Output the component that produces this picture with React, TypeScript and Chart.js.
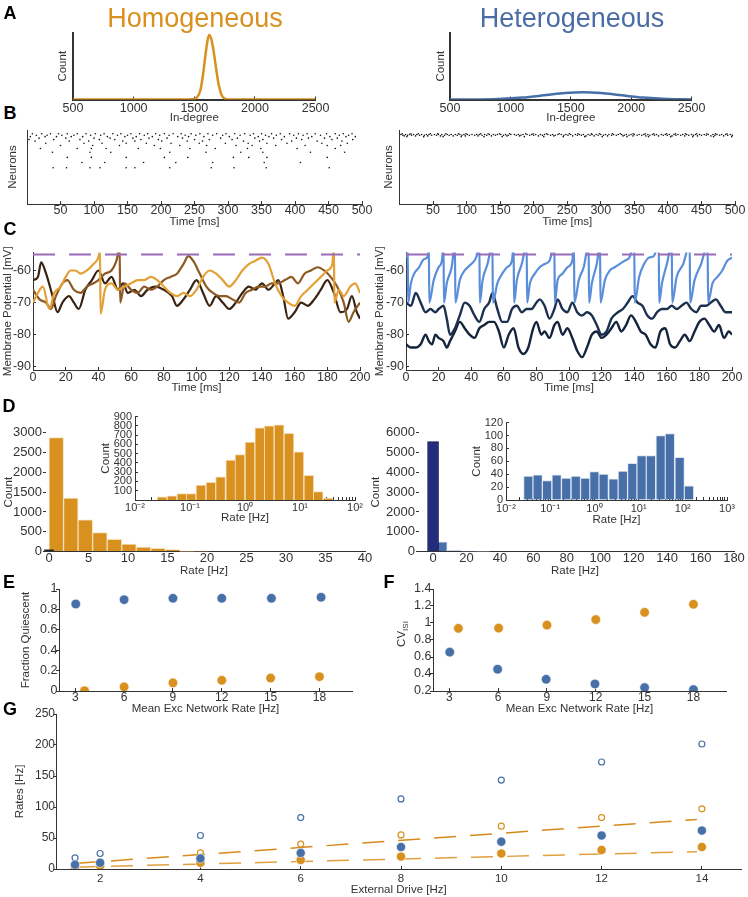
import React, { useEffect, useRef } from "react";
import { Chart, registerables } from "chart.js";

Chart.register(...registerables);

const FONT = "'Liberation Sans', Arial, Helvetica, sans-serif";
const ORANGE = "#D8901F";
const BLUE = "#4870A8";
const NAVY = "#222C7A";
const TXT = "#333333";
const AXC = "#333333";
const PURPLE = "#9A6BB8";
const TICK_FS = 12.5;
const TITLE_FS = 11.5;

// ---------- A: in-degree distributions ----------
const indegreeTicks = [500, 1000, 1500, 2000, 2500];
const homoIndegX = [500, 1400, 1480, 1520, 1550, 1570, 1590, 1610, 1622, 1640, 1660, 1680, 1700, 1725, 1750, 1800, 2500];
const homoIndegY = [0, 0, 0.004, 0.03, 0.14, 0.36, 0.66, 0.92, 1.0, 0.94, 0.74, 0.48, 0.24, 0.07, 0.015, 0, 0];
const heteIndegX = [500, 700, 900, 1100, 1300, 1450, 1600, 1750, 1900, 2100, 2300, 2500];
const heteIndegY = [0, 0.001, 0.008, 0.03, 0.07, 0.1, 0.112, 0.1, 0.07, 0.03, 0.008, 0.001];

// ---------- B: rasters ----------
const rasterTicks = [50, 100, 150, 200, 250, 300, 350, 400, 450, 500];
const rasterLeftRows = [95, 93, 91, 89, 87, 85, 82, 79, 75, 70, 63, 56, 49];
const rasterLeftTimes = [
  [8, 22, 35, 47, 60, 75, 88, 102, 115, 128, 140, 155, 168, 180, 192, 205, 218, 230, 245, 258, 270, 283, 297, 310, 325, 338, 350, 365, 378, 392, 405, 418, 430, 447, 460, 472, 485],
  [14, 30, 52, 70, 95, 110, 135, 150, 175, 198, 212, 236, 252, 277, 292, 318, 333, 356, 372, 398, 412, 438, 466, 480],
  [5, 27, 44, 66, 83, 120, 146, 163, 187, 225, 241, 264, 302, 345, 361, 384, 425, 452, 476, 490],
  [18, 58, 100, 124, 158, 182, 209, 232, 289, 314, 340, 368, 402, 420, 444, 463],
  [3, 40, 79, 108, 131, 170, 196, 250, 272, 306, 352, 380, 410, 455, 486],
  [12, 63, 92, 143, 161, 201, 239, 262, 323, 347, 395, 433, 470],
  [28, 85, 112, 148, 178, 215, 257, 296, 330, 358, 388, 440, 478],
  [50, 98, 138, 190, 228, 268, 312, 336, 371, 415, 448, 468],
  [20, 75, 96, 118, 166, 199, 243, 281, 329, 349, 403, 460],
  [38, 94, 125, 213, 267, 319, 352, 423, 474],
  [60, 96, 148, 205, 240, 308, 331, 358, 448],
  [82, 116, 174, 222, 277, 354, 408],
  [39, 59, 94, 109, 148, 161, 213, 275, 309, 357, 451],
];
const rasterRightRows = [95, 94, 93, 92, 91];
const rasterRightTimes = [
  [4, 17, 28, 46, 57, 69, 88, 99, 121, 132, 149, 164, 188, 199, 219, 238, 253, 266, 286, 298, 317, 329, 348, 366, 379, 398, 411, 426, 443, 458, 471, 488],
  [2, 9, 15, 21, 26, 33, 40, 44, 52, 58, 63, 71, 77, 83, 90, 96, 101, 108, 115, 119, 127, 134, 140, 146, 151, 158, 166, 171, 177, 184, 190, 197, 203, 210, 216, 221, 228, 236, 241, 248, 255, 262, 268, 274, 281, 287, 293, 300, 307, 312, 319, 326, 331, 338, 345, 350, 357, 364, 370, 377, 383, 390, 396, 402, 409, 415, 422, 428, 435, 441, 447, 454, 460, 467, 473, 480, 486, 493],
  [5, 12, 18, 30, 37, 48, 55, 67, 74, 86, 93, 104, 112, 123, 130, 143, 155, 162, 174, 181, 194, 200, 213, 225, 232, 245, 251, 265, 271, 284, 296, 304, 316, 323, 335, 342, 354, 361, 373, 380, 393, 399, 412, 419, 431, 438, 450, 457, 470, 477, 489, 496],
  [7, 24, 42, 61, 80, 98, 117, 137, 160, 179, 207, 230, 258, 278, 290, 310, 333, 348, 367, 386, 406, 425, 444, 464, 483],
  [11, 36, 65, 92, 126, 153, 186, 215, 244, 276, 302, 339, 371, 404, 437, 468, 495],
];

// ---------- C: membrane potentials ----------
const vmTimeTicks = [0, 20, 40, 60, 80, 100, 120, 140, 160, 180, 200];
const vmTicks = [-90, -80, -70, -60];
const thresholdT = [0, 200];
const thresholdV = [-55, -55];

const homoDarkT = [0, 3, 5, 8, 12, 15, 18, 22, 25, 28, 32, 36, 40, 44, 48, 52, 55, 58, 62, 66, 70, 75, 80, 85, 88, 92, 96, 100, 104, 108, 112, 116, 120, 124, 128, 132, 136, 140, 144, 148, 150, 153, 156, 160, 164, 168, 172, 176, 180, 184, 188, 192, 195, 198, 200];
const homoDarkV = [-63, -62, -57.5, -61, -68, -73, -70, -68, -70, -72, -66, -63, -60, -64, -62, -66, -64, -67, -66, -68, -66, -65, -66, -68, -71, -69, -66, -63, -67, -71, -68, -70, -72, -70, -67, -65, -66, -64, -66, -64, -63, -68, -75, -73, -70, -71, -69, -66, -63, -67, -73, -72, -68, -73, -75];
const homoMidT = [0, 4, 8, 11, 14, 18, 21, 25, 29, 33, 37, 40, 44, 48, 51, 53, 53.3, 56, 60, 64, 68, 72, 76, 80, 84, 88, 92, 95, 98, 102, 106, 110, 114, 118, 122, 126, 130, 134, 138, 142, 146, 150, 154, 158, 162, 166, 170, 174, 178, 182, 186, 190, 193, 196, 200];
const homoMidV = [-66, -69, -70, -72, -68, -64, -63, -66, -67, -65, -64, -63, -61, -60, -57, -53, -70, -64, -66, -67, -65, -66, -65, -63, -62, -61, -58, -55.5, -57, -61, -65, -67, -68, -68, -69, -70, -67, -66, -65, -65, -64, -64, -63, -62, -64, -61, -60, -59, -60, -62, -65, -70, -76, -73, -70];
const homoLightT = [0, 3, 6, 10, 13, 17, 20, 23, 26, 29, 33, 37, 40, 41, 41.3, 44, 48, 52, 56, 60, 64, 68, 72, 76, 80, 84, 88, 92, 96, 100, 104, 108, 112, 116, 120, 124, 128, 132, 136, 140, 144, 148, 152, 156, 160, 164, 168, 172, 176, 180, 183, 184, 184.3, 187, 190, 194, 197, 200];
const homoLightV = [-70, -67, -65, -72, -67, -65, -62, -60, -60, -61, -60, -58, -56, -54, -73.5, -66, -64, -66, -65, -64, -63, -63, -62, -63, -65, -67, -68, -67, -68, -66, -62, -60, -61, -63, -65, -63, -60, -58, -57, -56, -58, -64, -68, -70, -71, -68, -66, -64, -62, -60, -58, -53, -70, -66, -68, -65, -64, -67];

const heteSpikeT = [0, 1, 1.3, 3, 5, 8, 11, 13.5, 14, 14.3, 17, 20, 22, 23, 23.3, 25, 28, 30, 30.3, 33, 36, 40, 43, 45, 45.3, 47, 50, 53, 53.3, 56, 59, 62, 65, 66, 66.3, 68, 71, 74, 74.3, 76, 79, 82, 85, 88, 91, 91.3, 93, 96, 99, 102, 103, 103.3, 106, 109, 112, 112.3, 114, 117, 119, 119.3, 122, 125, 128, 131, 134, 137, 140, 140.3, 143, 146, 149, 152, 155, 155.3, 157, 160, 163, 163.3, 166, 170, 174, 174.3, 177, 181, 185, 185.3, 188, 191, 194, 197, 200];
const heteSpikeV = [-56, -52, -70, -64, -61, -59, -56.5, -55.5, -52, -70, -63, -59, -57, -52, -70, -64, -59, -52, -70, -63, -60, -58, -56, -52, -70, -63, -58, -52, -70, -64, -61, -59, -57, -52, -70, -63, -58, -52, -70, -64, -61, -59, -58, -57, -52, -70, -63, -61, -59, -57, -52, -70, -63, -59, -52, -70, -64, -58, -52, -70, -63, -60, -59, -58, -57, -56, -52, -70, -62, -58, -56, -55.5, -52, -70, -64, -58, -52, -70, -62, -58, -52, -70, -63, -58, -52, -70, -64, -62, -60, -57, -56];
const heteUpperT = [0, 3, 6, 9, 12, 15, 18, 20, 23, 25, 27, 30, 33, 36, 39, 42, 45, 48, 51, 53, 56, 59, 62, 65, 68, 71, 74, 77, 80, 82, 85, 88, 91, 93, 96, 99, 102, 105, 108, 111, 114, 117, 120, 123, 126, 130, 133, 136, 139, 142, 145, 148, 151, 154, 157, 160, 163, 166, 169, 172, 175, 178, 181, 184, 187, 190, 193, 196, 200];
const heteUpperV = [-70, -71, -67, -70, -73, -72, -73, -72, -71, -75, -80, -78, -74, -70, -71, -74, -76, -72, -70, -67, -72, -76, -76, -72, -71, -73, -72, -72, -70, -69, -71, -75, -72, -69, -72, -73, -70, -73, -74, -73, -74, -77, -80, -79, -75, -73, -72, -70, -68, -70, -71, -74, -75, -73, -72, -72, -71, -72, -71, -70, -72, -73, -71, -71, -70, -69, -71, -73, -73];
const heteLowerT = [0, 3, 6, 9, 12, 14, 16, 18, 20, 23, 25, 27, 30, 33, 36, 39, 42, 45, 48, 51, 54, 57, 60, 63, 66, 69, 72, 75, 78, 80, 83, 85, 88, 91, 93, 96, 99, 102, 105, 108, 111, 114, 117, 120, 123, 126, 129, 132, 135, 138, 141, 144, 147, 150, 153, 156, 159, 162, 165, 168, 171, 174, 177, 180, 183, 186, 189, 192, 195, 198, 200];
const heteLowerV = [-83, -84, -84, -83, -80, -82, -83, -80, -81, -82, -84, -82, -79, -76, -78, -80, -81, -78, -77, -76, -76, -79, -84, -80, -78, -84, -86, -84, -78, -76, -80, -79, -81, -77, -76, -80, -78, -81, -85, -87, -84, -80, -79, -81, -80, -78, -76, -79, -77, -74, -76, -79, -80, -83, -84, -79, -78, -83, -84, -82, -80, -82, -79, -76, -75, -77, -79, -77, -81, -79, -80];

// ---------- D: rate histograms ----------
const homoRateTicks = [0, 5, 10, 15, 20, 25, 30, 35, 40];
const homoCountTicks = [0, 500, 1000, 1500, 2000, 2500, 3000];
const homoRateCenters = [0.92, 2.76, 4.6, 6.44, 8.28, 10.12, 11.96, 13.8, 15.64, 17.48, 19.32];
const homoRateCounts = [2880, 1350, 800, 480, 310, 190, 110, 80, 50, 5, 10];
const homoSilentCount = 40;
const heteRateTicks = [0, 20, 40, 60, 80, 100, 120, 140, 160, 180];
const heteCountTicks = [0, 1000, 2000, 3000, 4000, 5000, 6000];
const heteRateCenters = [4.25, 12.75, 21.25, 29.75];
const heteRateCounts = [490, 40, 15, 8];
const heteSilentCount = 5550;

const homoLogCenters = [0.031, 0.047, 0.071, 0.105, 0.158, 0.24, 0.36, 0.55, 0.81, 1.23, 1.86, 2.75, 4.17, 6.31, 9.55, 14.5, 21.4, 32.4];
const homoLogCounts = [35, 45, 70, 70, 160, 190, 250, 430, 490, 625, 780, 800, 810, 720, 520, 265, 90, 20];
const homoLogCountTicks = [100, 200, 300, 400, 500, 600, 700, 800, 900];
const heteLogCenters = [0.032, 0.052, 0.085, 0.14, 0.23, 0.38, 0.62, 1.0, 1.62, 2.7, 4.4, 7.2, 11.7, 19, 31.6, 51, 85, 138];
const heteLogCounts = [37, 39, 30, 39, 34, 37, 34, 44, 40, 33, 45, 57, 69, 69, 100, 103, 66, 22];
const heteLogCountTicks = [0, 20, 40, 60, 80, 100, 120];
const logTicksHomo = [0.01, 0.02, 0.03, 0.04, 0.05, 0.06, 0.07, 0.08, 0.09, 0.1, 0.2, 0.3, 0.4, 0.5, 0.6, 0.7, 0.8, 0.9, 1, 2, 3, 4, 5, 6, 7, 8, 9, 10, 20, 30, 40, 50, 60, 70, 80, 90, 100];
const logTicksHete = [...logTicksHomo, 200, 300, 400, 500, 600, 700, 800, 900, 1000];
const decadeLabels: Record<string, string> = { "0.01": "10⁻²", "0.1": "10⁻¹", "1": "10⁰", "10": "10¹", "100": "10²", "1000": "10³" };

// ---------- E / F ----------
const meanRateTicks = [3, 6, 9, 12, 15, 18];
const fracTicks = [0, 0.2, 0.4, 0.6, 0.8, 1];
const cvTicks = [0.2, 0.4, 0.6, 0.8, 1, 1.2, 1.4];
const eBlueX = [3.03, 6, 9, 12, 15.05, 18.1];
const eBlueY = [0.853, 0.895, 0.909, 0.909, 0.909, 0.919];
const eOrangeX = [3.57, 6, 9, 12, 15, 18];
const eOrangeY = [0.003, 0.04, 0.08, 0.105, 0.127, 0.14];
const fBlueX = [3.03, 5.97, 8.95, 11.95, 15, 18];
const fBlueY = [0.657, 0.456, 0.338, 0.283, 0.24, 0.216];
const fOrangeX = [3.56, 6.03, 9, 12, 15, 18];
const fOrangeY = [0.937, 0.94, 0.975, 1.04, 1.125, 1.22];

// ---------- G ----------
const driveTicks = [2, 4, 6, 8, 10, 12, 14];
const ratesTicks = [0, 50, 100, 150, 200, 250];
const driveX = [1.5, 2, 4, 6, 8, 10, 12, 14];
const heteInhRates = [18, 25, 54, 83, 113, 143.5, 172.6, 201.6];
const homoInhRates = [7, 12, 26, 40, 55, 69, 83, 97];
const heteExcRates = [7, 10, 17, 26, 35.5, 44, 54, 62];
const homoExcRates = [2, 5, 10, 14.5, 20, 25, 30.6, 35.5];
const fitHighX = [1.5, 13.9];
const fitHighY = [9, 80];
const fitLowX = [1.5, 13.9];
const fitLowY = [3, 28];

// ---------- helpers ----------
const pts = (xs: number[], ys: number[]) => xs.map((x, i) => ({ x, y: ys[i] }));
const rasterPts = (rows: number[], times: number[][]) =>
  rows.flatMap((r, i) => times[i].map((t) => ({ x: t, y: r })));

type Box = { l: number; t: number; r: number; b: number; yW: number; xH: number; pt: number; pr: number; pl: number };

interface AxisOpt {
  dir: "x" | "y";
  min: number;
  max: number;
  ticks: number[];
  log?: boolean;
  fmt?: (v: number) => string;
  size: number;
  title?: string;
  gap?: number;
  tickLen?: number;
  labels?: boolean;
  border?: boolean;
  bw?: number;
  fs?: number;
}

function axis(o: AxisOpt) {
  const isX = o.dir === "x";
  const tl = o.tickLen === undefined ? -3 : o.tickLen;
  const gap = o.gap === undefined ? 2 : o.gap;
  return {
    type: o.log ? "logarithmic" : "linear",
    position: isX ? "bottom" : "left",
    min: o.min,
    max: o.max,
    offset: false,
    afterBuildTicks: (s: any) => {
      s.ticks = o.ticks.map((v) => ({ value: v }));
    },
    afterFit: (s: any) => {
      if (isX) s.height = o.size;
      else s.width = o.size;
    },
    ticks: {
      display: o.labels !== false,
      autoSkip: false,
      maxRotation: 0,
      minRotation: 0,
      padding: gap - tl,
      color: TXT,
      font: { family: FONT, size: o.fs ?? TICK_FS },
      callback: (v: any) => (o.fmt ? o.fmt(Number(v)) : String(v)),
    },
    grid: { display: true, offset: false, drawOnChartArea: false, drawTicks: tl !== 0, tickLength: tl, color: AXC, lineWidth: 1 },
    border: { display: o.border !== false, color: AXC, width: o.bw ?? 1 },
    title: o.title
      ? { display: true, text: o.title, color: TXT, font: { family: FONT, size: TITLE_FS }, padding: 0 }
      : { display: false },
  };
}

function base(box: Box, x: any, y: any) {
  return {
    responsive: false,
    animation: false,
    devicePixelRatio: 1,
    events: [],
    layout: { padding: { left: box.pl, top: box.pt, right: box.pr, bottom: 0 } },
    plugins: { legend: { display: false }, tooltip: { enabled: false }, title: { display: false } },
    scales: { x, y },
  };
}

const line = (data: any[], color: string, width: number, extra: any = {}) => ({
  data,
  borderColor: color,
  backgroundColor: color,
  borderWidth: width,
  pointRadius: 0,
  fill: false,
  cubicInterpolationMode: "monotone",
  ...extra,
});

const fmtDec = (v: number) => (v === 0 ? "0" : String(Number(v.toFixed(1))));
const fmtLog = (v: number) => decadeLabels[String(v)] ?? "";

// ---------- boxes ----------
const boxAL: Box = { l: 73, t: 33, r: 318, b: 99, yW: 17, xH: 25.5, pt: 2, pr: 16, pl: 12 };
const boxAR: Box = { l: 450, t: 33, r: 694, b: 99, yW: 16, xH: 25.5, pt: 2, pr: 16, pl: 12 };
const boxBL: Box = { l: 27, t: 128, r: 363, b: 204, yW: 21, xH: 25, pt: 2, pr: 12, pl: 2 };
const boxBR: Box = { l: 399, t: 128, r: 736, b: 204, yW: 17.5, xH: 25, pt: 2, pr: 11, pl: 2 };
const boxCL: Box = { l: 33, t: 244, r: 362, b: 370, yW: 32, xH: 25, pt: 4, pr: 12, pl: 1 };
const boxCR: Box = { l: 406, t: 244, r: 734, b: 370, yW: 33, xH: 25, pt: 4, pr: 12, pl: 1 };
const boxDL: Box = { l: 43, t: 430, r: 365, b: 551, yW: 41, xH: 26.5, pt: 9, pr: 10, pl: 1 };
const boxDR: Box = { l: 416, t: 430, r: 734, b: 551, yW: 47, xH: 26.5, pt: 9, pr: 12, pl: 0 };
const boxDLi: Box = { l: 135, t: 413, r: 355, b: 500, yW: 36, xH: 25, pt: 9, pr: 12, pl: 2 };
const boxDRi: Box = { l: 506, t: 419, r: 727, b: 500, yW: 36, xH: 27, pt: 9, pr: 14, pl: 2 };
const boxE: Box = { l: 59, t: 589, r: 352, b: 691, yW: 40, xH: 25, pt: 9, pr: 10, pl: 2 };
const boxF: Box = { l: 433, t: 589, r: 726, b: 691, yW: 38, xH: 25, pt: 9, pr: 14, pl: 2 };
const boxG: Box = { l: 56, t: 714, r: 740, b: 869, yW: 43.5, xH: 28, pt: 9, pr: 8, pl: 2 };

const specs: { box: Box; make: () => any }[] = [
  {
    box: boxAL,
    make: () => ({
      type: "line",
      data: { datasets: [line(pts(homoIndegX, homoIndegY), ORANGE, 2.5)] },
      options: base(
        boxAL,
        axis({ dir: "x", min: 500, max: 2500, ticks: indegreeTicks, size: boxAL.xH, title: "In-degree", bw: 2, gap: 1.5 }),
        axis({ dir: "y", min: 0, max: 1.03, ticks: [], labels: false, size: boxAL.yW, title: "Count", bw: 2, tickLen: 0 })
      ),
    }),
  },
  {
    box: boxAR,
    make: () => ({
      type: "line",
      data: { datasets: [line(pts(heteIndegX, heteIndegY), BLUE, 2.5)] },
      options: base(
        boxAR,
        axis({ dir: "x", min: 500, max: 2500, ticks: indegreeTicks, size: boxAR.xH, title: "In-degree", bw: 2, gap: 1.5 }),
        axis({ dir: "y", min: 0, max: 1.03, ticks: [], labels: false, size: boxAR.yW, title: "Count", bw: 2, tickLen: 0 })
      ),
    }),
  },
  {
    box: boxBL,
    make: () => ({
      type: "scatter",
      data: { datasets: [{ data: rasterPts(rasterLeftRows, rasterLeftTimes), backgroundColor: "#111", borderWidth: 0, pointRadius: 0.8 }] },
      options: base(
        boxBL,
        axis({ dir: "x", min: 0, max: 500, ticks: rasterTicks, size: boxBL.xH, title: "Time [ms]", gap: -0.5 }),
        axis({ dir: "y", min: 0, max: 100, ticks: [], labels: false, size: boxBL.yW, title: "Neurons", tickLen: 0 })
      ),
    }),
  },
  {
    box: boxBR,
    make: () => ({
      type: "scatter",
      data: { datasets: [{ data: rasterPts(rasterRightRows, rasterRightTimes), backgroundColor: "#111", borderWidth: 0, pointRadius: 0.8 }] },
      options: base(
        boxBR,
        axis({ dir: "x", min: 0, max: 500, ticks: rasterTicks, size: boxBR.xH, title: "Time [ms]", gap: -0.5 }),
        axis({ dir: "y", min: 0, max: 100, ticks: [], labels: false, size: boxBR.yW, title: "Neurons", tickLen: 0 })
      ),
    }),
  },
  {
    box: boxCL,
    make: () => ({
      type: "line",
      data: {
        datasets: [
          line(pts(thresholdT, thresholdV), PURPLE, 2, { borderDash: [22, 14], cubicInterpolationMode: "default", tension: 0 }),
          line(pts(homoLightT, homoLightV), "#E3A036", 2.2),
          line(pts(homoMidT, homoMidV), "#8C5A22", 2.2),
          line(pts(homoDarkT, homoDarkV), "#3A2311", 2.2),
        ],
      },
      options: base(
        boxCL,
        axis({ dir: "x", min: 0, max: 200, ticks: vmTimeTicks, size: boxCL.xH, title: "Time [ms]", gap: 0.5 }),
        axis({ dir: "y", min: -91, max: -54.4, ticks: vmTicks, size: boxCL.yW, title: "Membrane Potential [mV]", gap: 2 })
      ),
    }),
  },
  {
    box: boxCR,
    make: () => ({
      type: "line",
      data: {
        datasets: [
          line(pts(thresholdT, thresholdV), PURPLE, 2, { borderDash: [22, 14], cubicInterpolationMode: "default", tension: 0 }),
          line(pts(heteSpikeT, heteSpikeV), "#5A8EDB", 2.2),
          line(pts(heteUpperT, heteUpperV), "#1C3150", 2.4),
          line(pts(heteLowerT, heteLowerV), "#15243D", 2.4),
        ],
      },
      options: base(
        boxCR,
        axis({ dir: "x", min: 0, max: 200, ticks: vmTimeTicks, size: boxCR.xH, title: "Time [ms]", gap: 0.5 }),
        axis({ dir: "y", min: -91, max: -54.4, ticks: vmTicks, size: boxCR.yW, title: "Membrane Potential [mV]", gap: 2 })
      ),
    }),
  },
  {
    box: boxDL,
    make: () => ({
      type: "bar",
      data: {
        datasets: [
          { data: [{ x: 0, y: homoSilentCount }], backgroundColor: "#222", borderWidth: 0, barThickness: 9, grouped: false },
          { data: pts(homoRateCenters, homoRateCounts), backgroundColor: ORANGE, borderColor: "#F3DDB5", borderWidth: 1, barThickness: 14.5, grouped: false },
        ],
      },
      options: base(
        boxDL,
        axis({ dir: "x", min: -0.76, max: 40, ticks: homoRateTicks, size: boxDL.xH, title: "Rate [Hz]", gap: -0.5, tickLen: 0, fs: 13 }),
        axis({ dir: "y", min: 0, max: 3000, ticks: homoCountTicks, size: boxDL.yW, title: "Count", gap: 1, border: false, fs: 13 })
      ),
    }),
  },
  {
    box: boxDR,
    make: () => ({
      type: "bar",
      data: {
        datasets: [
          { data: [{ x: 0, y: heteSilentCount }], backgroundColor: NAVY, borderColor: "#111a55", borderWidth: 1, barThickness: 11, grouped: false },
          { data: pts(heteRateCenters, heteRateCounts), backgroundColor: BLUE, borderColor: "#DCE4F0", borderWidth: 1, barThickness: 14.2, grouped: false },
        ],
      },
      options: base(
        boxDR,
        axis({ dir: "x", min: -10.2, max: 180, ticks: heteRateTicks, size: boxDR.xH, title: "Rate [Hz]", gap: -0.5, tickLen: 0, fs: 13 }),
        axis({ dir: "y", min: 0, max: 6000, ticks: heteCountTicks, size: boxDR.yW, title: "Count", gap: 1, border: false, fs: 13 })
      ),
    }),
  },
  {
    box: boxDLi,
    make: () => ({
      type: "bar",
      data: {
        datasets: [
          { data: pts(homoLogCenters, homoLogCounts), backgroundColor: ORANGE, borderColor: "#F3DDB5", borderWidth: 1, barThickness: 9.8, grouped: false },
        ],
      },
      options: base(
        boxDLi,
        axis({ dir: "x", log: true, min: 0.01, max: 100, ticks: logTicksHomo, fmt: fmtLog, size: boxDLi.xH, title: "Rate [Hz]", gap: 1, fs: 11 }),
        axis({ dir: "y", min: 0, max: 900, ticks: homoLogCountTicks, size: boxDLi.yW, title: "Count", gap: 3, fs: 11 })
      ),
    }),
  },
  {
    box: boxDRi,
    make: () => ({
      type: "bar",
      data: {
        datasets: [
          { data: pts(heteLogCenters, heteLogCounts), backgroundColor: BLUE, borderColor: "#DCE4F0", borderWidth: 1, barThickness: 9.5, grouped: false },
        ],
      },
      options: base(
        boxDRi,
        axis({ dir: "x", log: true, min: 0.01, max: 1000, ticks: logTicksHete, fmt: fmtLog, size: boxDRi.xH, title: "Rate [Hz]", gap: 2, fs: 11 }),
        axis({ dir: "y", min: 0, max: 120, ticks: heteLogCountTicks, size: boxDRi.yW, title: "Count", gap: 3, fs: 11 })
      ),
    }),
  },
  {
    box: boxE,
    make: () => ({
      type: "scatter",
      data: {
        datasets: [
          { data: pts(eBlueX, eBlueY), backgroundColor: BLUE, borderColor: "#ffffff", borderWidth: 0.6, pointRadius: 4.8 },
          { data: pts(eOrangeX, eOrangeY), backgroundColor: ORANGE, borderColor: "#ffffff", borderWidth: 0.6, pointRadius: 4.8 },
        ],
      },
      options: base(
        boxE,
        axis({ dir: "x", min: 2, max: 20, ticks: meanRateTicks, size: boxE.xH, title: "Mean Exc Network Rate [Hz]", gap: -0.9, fs: 12 }),
        axis({ dir: "y", min: 0, max: 1, ticks: fracTicks, fmt: fmtDec, size: boxE.yW, title: "Fraction Quiescent", gap: 1.5, tickLen: 3, fs: 12.5 })
      ),
    }),
  },
  {
    box: boxF,
    make: () => ({
      type: "scatter",
      data: {
        datasets: [
          { data: pts(fBlueX, fBlueY), backgroundColor: BLUE, borderColor: "#ffffff", borderWidth: 0.6, pointRadius: 4.8 },
          { data: pts(fOrangeX, fOrangeY), backgroundColor: ORANGE, borderColor: "#ffffff", borderWidth: 0.6, pointRadius: 4.8 },
        ],
      },
      options: base(
        boxF,
        axis({ dir: "x", min: 2, max: 20, ticks: meanRateTicks, size: boxF.xH, title: "Mean Exc Network Rate [Hz]", gap: -0.9, fs: 12 }),
        axis({ dir: "y", min: 0.2, max: 1.4, ticks: cvTicks, fmt: fmtDec, size: boxF.yW, gap: 1.5, tickLen: 3, fs: 12.5 })
      ),
    }),
  },
  {
    box: boxG,
    make: () => ({
      type: "scatter",
      data: {
        datasets: [
          { data: pts(driveX, heteExcRates), backgroundColor: BLUE, borderColor: "#ffffff", borderWidth: 0.6, pointRadius: 4.6 },
          { data: pts(driveX, homoExcRates), backgroundColor: ORANGE, borderColor: "#ffffff", borderWidth: 0.6, pointRadius: 4.6 },
          { data: pts(driveX, heteInhRates), backgroundColor: "rgba(0,0,0,0)", borderColor: BLUE, borderWidth: 1.2, pointRadius: 3 },
          { data: pts(driveX, homoInhRates), backgroundColor: "rgba(0,0,0,0)", borderColor: ORANGE, borderWidth: 1.2, pointRadius: 3 },
          { data: pts(fitHighX, fitHighY), showLine: true, borderColor: "#D68A1A", borderWidth: 1.5, borderDash: [22, 14], pointRadius: 0 },
          { data: pts(fitLowX, fitLowY), showLine: true, borderColor: "#E0A040", borderWidth: 1.5, borderDash: [22, 14], pointRadius: 0 },
        ],
      },
      options: base(
        boxG,
        axis({ dir: "x", min: 1.13, max: 14.78, ticks: driveTicks, size: boxG.xH, title: "External Drive [Hz]", gap: 3.4, fs: 11.5 }),
        axis({ dir: "y", min: 0, max: 250, ticks: ratesTicks, size: boxG.yW, title: "Rates [Hz]", gap: 1.5, tickLen: 3, fs: 12 })
      ),
    }),
  },
];

function ChartCanvas({ box, make }: { box: Box; make: () => any }) {
  const ref = useRef<HTMLCanvasElement | null>(null);
  const W = Math.round(box.r - box.l + box.yW + box.pl + box.pr);
  const H = Math.round(box.b - box.t + box.pt + box.xH);
  useEffect(() => {
    const c = new Chart(ref.current as HTMLCanvasElement, make());
    return () => c.destroy();
  }, []);
  return (
    <canvas
      ref={ref}
      width={W}
      height={H}
      style={{ position: "absolute", left: box.l - box.yW - box.pl, top: box.t - box.pt, width: W, height: H }}
    />
  );
}

function Label({ x, y, text, size, color, bold }: { x: number; y: number; text: string; size: number; color?: string; bold?: boolean }) {
  return (
    <div
      style={{
        position: "absolute",
        left: x,
        top: y,
        transform: "translate(-50%, -50%)",
        fontFamily: FONT,
        fontSize: size,
        fontWeight: bold ? 700 : 400,
        color: color ?? "#000",
        lineHeight: 1,
        whiteSpace: "nowrap",
      }}
    >
      {text}
    </div>
  );
}

export default function App() {
  return (
    <div style={{ position: "absolute", left: 0, top: 0, width: 748, height: 897, background: "#fff", overflow: "hidden" }}>
      {specs.map((s, i) => (
        <ChartCanvas key={i} box={s.box} make={s.make} />
      ))}
      <Label x={195} y={18} text="Homogeneous" size={27} color="#D9901E" />
      <Label x={572} y={18} text="Heterogeneous" size={27} color="#4A6DA7" />
      <Label x={10} y={13} text="A" size={18} bold />
      <Label x={10} y={113} text="B" size={18} bold />
      <Label x={10} y={229} text="C" size={18} bold />
      <Label x={9} y={406} text="D" size={18} bold />
      <Label x={9} y={582} text="E" size={18} bold />
      <Label x={389} y={582} text="F" size={18} bold />
      <Label x={10} y={709} text="G" size={18} bold />
      <div
        style={{
          position: "absolute",
          left: 403,
          top: 634,
          transform: "translate(-50%, -50%) rotate(-90deg)",
          fontFamily: FONT,
          fontSize: 11.5,
          color: TXT,
          lineHeight: 1,
          whiteSpace: "nowrap",
        }}
      >
        CV<sub style={{ fontSize: 8 }}>ISI</sub>
      </div>
    </div>
  );
}
